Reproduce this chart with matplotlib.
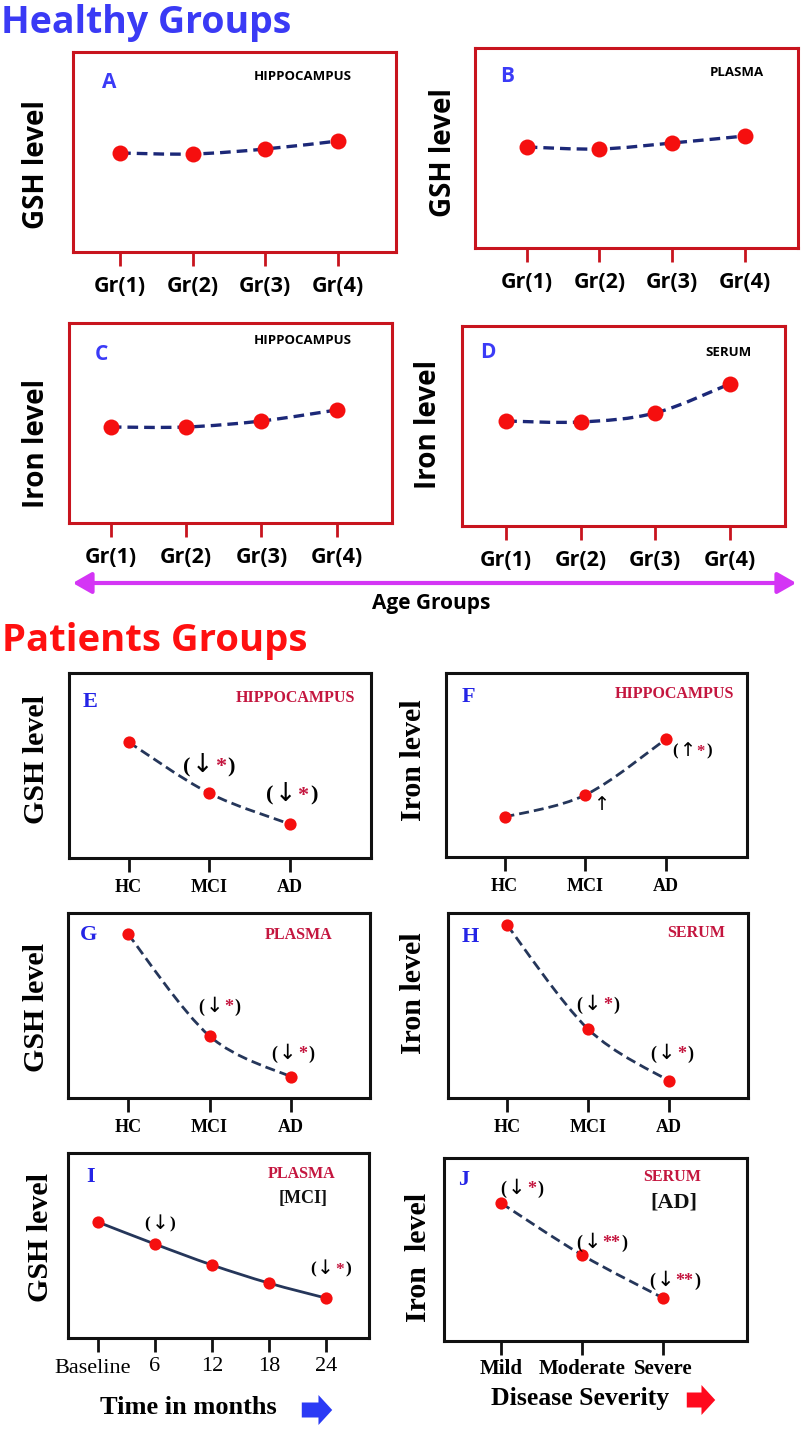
import matplotlib
matplotlib.use('Agg')
import matplotlib.pyplot as plt
from matplotlib.path import Path
from matplotlib.patches import PathPatch, FancyArrowPatch
from matplotlib.offsetbox import TextArea, HPacker, AnnotationBbox
from matplotlib.transforms import ScaledTranslation
import numpy as np

# ---------------- data ----------------
age_groups = ['Gr(1)', 'Gr(2)', 'Gr(3)', 'Gr(4)']
gsh_hippocampus_age = [49.5, 49.0, 51.5, 55.5]
gsh_plasma_age = [50.5, 49.5, 52.5, 56.0]
iron_hippocampus_age = [48.0, 48.0, 51.0, 56.5]
iron_serum_age = [52.5, 52.0, 56.5, 71.0]

diagnosis = ['HC', 'MCI', 'AD']
gsh_hippocampus_pat = [62.7, 35.1, 18.4]
iron_hippocampus_pat = [21.7, 33.7, 64.1]
gsh_plasma_pat = [88.6, 33.5, 11.4]
iron_serum_pat = [93.5, 37.3, 9.2]

months = [0, 6, 12, 18, 24]
month_labels = ['Baseline', '6', '12', '18', '24']
gsh_plasma_mci_time = [62.7, 50.8, 39.5, 29.7, 21.6]

severity = ['Mild', 'Moderate', 'Severe']
iron_serum_ad_severity = [75.4, 47.0, 23.5]

# significance marks: index -> (arrow, stars, parentheses)
marks_E = {1: ('↓', '*', True), 2: ('↓', '*', True)}
marks_F = {1: ('↑', '', False), 2: ('↑', '*', True)}
marks_G = {1: ('↓', '*', True), 2: ('↓', '*', True)}
marks_H = {1: ('↓', '*', True), 2: ('↓', '*', True)}
marks_I = {1: ('↓', '', True), 4: ('↓', '*', True)}
marks_J = {0: ('↓', '*', True), 1: ('↓', '**', True), 2: ('↓', '**', True)}

# ---------------- setup ----------------
W, H = 805, 1446
DPI = 100
SANS = ['Open Sans', 'DejaVu Sans']
SERIF = ['Liberation Serif', 'DejaVu Serif']
plt.rcParams['font.family'] = SANS

fig = plt.figure(figsize=(W / DPI, H / DPI), dpi=DPI)

BLUE_TXT = '#3b3bf7'
CRIMSON = '#c4163f'


def F(x, y):
    return (x / W, 1 - y / H)


def smooth_path(x, y):
    x = np.asarray(x, float)
    y = np.asarray(y, float)
    n = len(x)
    verts = [(x[0], y[0])]
    codes = [Path.MOVETO]
    for i in range(n - 1):
        a = max(i - 1, 0)
        d = min(i + 2, n - 1)
        c1 = (x[i] + (x[i + 1] - x[a]) / 6, y[i] + (y[i + 1] - y[a]) / 6)
        c2 = (x[i + 1] - (x[d] - x[i]) / 6, y[i + 1] - (y[d] - y[i]) / 6)
        verts += [c1, c2, (x[i + 1], y[i + 1])]
        codes += [Path.CURVE4] * 3
    return Path(verts, codes)


def panel(box, p0, step, xvals, yvals, labels, healthy, ls='dashed', pad=7):
    x0, y0, x1, y1 = box
    ax = fig.add_axes([x0 / W, 1 - y1 / H, (x1 - x0) / W, (y1 - y0) / H])
    ax.set_xlim((x0 - p0) / step, (x1 - p0) / step)
    ax.set_ylim(0, 100)
    if healthy:
        ec = '#c8141e'
        lc = '#1c2878'
        ms = 11.5
        dash = (0, (3.2, 1.8))
        lw = 2.4
        fam = SANS
        fsz = 15.5
    else:
        ec = '#111111'
        lc = '#25365a'
        ms = 8.8
        dash = (0, (3.6, 1.8))
        lw = 2.0
        fam = SERIF
        fsz = 13
    for s in ax.spines.values():
        s.set_color(ec)
        s.set_linewidth(2.2)
    xv = np.asarray(xvals, float)
    path = smooth_path(xv, yvals)
    patch = PathPatch(path, facecolor='none', edgecolor=lc, lw=lw,
                      linestyle=(dash if ls == 'dashed' else '-'), zorder=2)
    ax.add_patch(patch)
    ax.plot(xv, yvals, 'o', color='#f50f0f', markersize=ms, zorder=3,
            markeredgewidth=0)
    ax.set_xticks(xv)
    ax.set_xticklabels(labels, fontsize=fsz, fontweight='bold', family=fam)
    ax.tick_params(axis='x', direction='out', length=10, width=2, colors=ec,
                   pad=pad, labelcolor='black')
    ax.set_yticks([])
    return ax


def mark(ax, x, y, spec, dx, dy, size):
    arrow, stars, paren = spec
    areas = []
    if paren:
        areas.append(TextArea('(', textprops=dict(color='black', fontsize=size,
                                                   family=SERIF, fontweight='bold')))
    areas.append(TextArea(arrow, textprops=dict(color='black', fontsize=size * 1.15,
                                                 family=['DejaVu Sans'])))
    if stars:
        areas.append(TextArea(stars, textprops=dict(color=CRIMSON, fontsize=size,
                                                     family=SERIF, fontweight='bold')))
    if paren:
        areas.append(TextArea(')', textprops=dict(color='black', fontsize=size,
                                                   family=SERIF, fontweight='bold')))
    hb = HPacker(children=areas, align='baseline', pad=0, sep=1)
    ab = AnnotationBbox(hb, (x, y), xybox=(dx * 0.72, dy * 0.72),
                        xycoords='data', boxcoords='offset points',
                        frameon=False, box_alignment=(0.5, 0.5))
    ax.add_artist(ab)


def ftext(x, y, s, **kw):
    fig.text(*F(x, y), s, **kw)


def ylab(x, y, s, healthy):
    if healthy:
        ftext(x, y, s, rotation=90, ha='center', va='center', fontsize=20,
              fontweight='bold', family=SANS)
    else:
        ftext(x, y, s, rotation=90, ha='center', va='center', fontsize=21.5,
              fontweight='bold', family=SERIF)


def letter(x, y, s, healthy):
    if healthy:
        ftext(x, y, s, ha='center', va='center', fontsize=15, fontweight='bold',
              color=BLUE_TXT, family=SANS)
    else:
        ftext(x, y, s, ha='center', va='center', fontsize=16, fontweight='bold',
              color='#2424e6', family=SERIF)


def site(x, y, s, healthy, color=None, size=None):
    if healthy:
        ftext(x, y, s, ha='center', va='center', fontsize=size or 9.5,
              fontweight='bold', color=color or 'black', family=SANS)
    else:
        ftext(x, y, s, ha='center', va='center', fontsize=size or 11.5,
              fontweight='bold', color=color or CRIMSON, family=SERIF)


# ---------------- titles ----------------
ftext(1, 33, 'Healthy Groups', ha='left', va='baseline', fontsize=27,
      fontweight='bold', color='#3a3af5', family=SANS)
ftext(2, 651, 'Patients Groups', ha='left', va='baseline', fontsize=27.5,
      fontweight='bold', color='#ff1010', family=SANS)

idx4 = np.arange(len(age_groups))
idx3 = np.arange(len(diagnosis))

# ---------------- healthy panels ----------------
axA = panel((73, 52, 396, 252), 120.1, 72.6, idx4, gsh_hippocampus_age, age_groups, True)
axB = panel((475, 48, 798, 248), 526.7, 72.7, idx4, gsh_plasma_age, age_groups, True)
axC = panel((69, 323, 392, 523), 110.8, 75.3, idx4, iron_hippocampus_age, age_groups, True)
axD = panel((462, 326, 785, 526), 506.2, 74.45, idx4, iron_serum_age, age_groups, True)

ylab(37, 165, 'GSH level', True)
ylab(443, 153, 'GSH level', True)
ylab(36, 443, 'Iron level', True)
ylab(428, 424, 'Iron level', True)

letter(109, 83, 'A', True)
letter(507, 77, 'B', True)
letter(101, 355, 'C', True)
letter(488, 353, 'D', True)
site(303, 77, 'HIPPOCAMPUS', True)
site(737, 73, 'PLASMA', True)
site(303, 340, 'HIPPOCAMPUS', True)
site(728, 353, 'SERUM', True)

arr = FancyArrowPatch(F(70, 583), F(799, 583), transform=fig.transFigure,
                      arrowstyle='<|-|>,head_length=0.7,head_width=0.4',
                      mutation_scale=16, lw=3, color='#d435f5')
fig.patches.append(arr)
ftext(431, 603, 'Age Groups', ha='center', va='center', fontsize=15,
      fontweight='bold', family=SANS)

# ---------------- patient panels ----------------
axE = panel((69, 673, 371, 858), 128.5, 80.5, idx3, gsh_hippocampus_pat, diagnosis, False, pad=5)
axF = panel((446, 673, 747, 857), 504.5, 80.75, idx3, iron_hippocampus_pat, diagnosis, False, pad=5)
axG = panel((68, 913, 370, 1098), 128.0, 81.5, idx3, gsh_plasma_pat, diagnosis, False, pad=5)
axH = panel((448, 913, 748, 1098), 507.0, 81.0, idx3, iron_serum_pat, diagnosis, False, pad=5)
axI = panel((68, 1153, 369, 1338), 97.8, 9.5, months, gsh_plasma_mci_time, month_labels, False,
            ls='solid', pad=4)
axJ = panel((444, 1158, 747, 1341), 501.0, 81.0, idx3, iron_serum_ad_severity, severity, False,
            pad=3)

# month tick labels: regular weight, larger
for t in axI.get_xticklabels():
    t.set_fontweight('normal')
    t.set_fontsize(16)
base = axI.get_xticklabels()[0]
base.set_transform(base.get_transform() + ScaledTranslation(-5 / DPI, -2 / DPI, fig.dpi_scale_trans))
for t in axJ.get_xticklabels():
    t.set_fontsize(15)

ylab(37, 760, 'GSH level', False)
ylab(413, 760, 'Iron level', False)
ylab(37, 1008, 'GSH level', False)
ylab(413, 993, 'Iron level', False)
ylab(40, 1237, 'GSH level', False)
ylab(418, 1257, 'Iron  level', False)

letter(90, 702, 'E', False)
letter(468, 697, 'F', False)
letter(88, 935, 'G', False)
letter(470, 937, 'H', False)
letter(91, 1177, 'I', False)
letter(464, 1180, 'J', False)
site(295, 698, 'HIPPOCAMPUS', False)
site(674, 694, 'HIPPOCAMPUS', False)
site(299, 935, 'PLASMA', False)
site(696, 933, 'SERUM', False)
site(302, 1174, 'PLASMA', False)
site(303, 1199, '[MCI]', False, color='#111111', size=13)
site(672, 1177, 'SERUM', False)
site(674, 1203, '[AD]', False, color='#111111', size=16)

# significance annotations (offsets in pixels from the point)
offE = {1: (0, 28), 2: (2, 30)}
offF = {1: (16, -10), 2: (26, -11)}
offG = {1: (10, 30), 2: (2, 24)}
offH = {1: (10, 25), 2: (3, 28)}
offI = {1: (5, 21), 4: (5, 30)}
offJ = {0: (21, 15), 1: (20, 13), 2: (12, 18)}
for ax, xs, ys, marks, offs, size in [
        (axE, idx3, gsh_hippocampus_pat, marks_E, offE, 16),
        (axF, idx3, iron_hippocampus_pat, marks_F, offF, 12),
        (axG, idx3, gsh_plasma_pat, marks_G, offG, 13),
        (axH, idx3, iron_serum_pat, marks_H, offH, 13),
        (axI, months, gsh_plasma_mci_time, marks_I, offI, 12.5),
        (axJ, idx3, iron_serum_ad_severity, marks_J, offJ, 13)]:
    for k, spec in marks.items():
        dx, dy = offs[k]
        mark(ax, xs[k], ys[k], spec, dx, dy, size)

ftext(188, 1408, 'Time in months', ha='center', va='center', fontsize=19,
      fontweight='bold', family=SERIF)
ftext(580, 1398, 'Disease Severity', ha='center', va='center', fontsize=18.5,
      fontweight='bold', family=SERIF)
for (xa, xb, y, c) in [(299, 335, 1410, '#2a3af5'), (684, 718, 1400, '#ff0a1e')]:
    a = FancyArrowPatch(F(xa, y), F(xb, y), transform=fig.transFigure,
                        arrowstyle='simple,head_length=0.55,head_width=1.2,tail_width=0.6',
                        mutation_scale=18, lw=0, color=c)
    fig.patches.append(a)

fig.savefig('out.png', dpi=DPI)
